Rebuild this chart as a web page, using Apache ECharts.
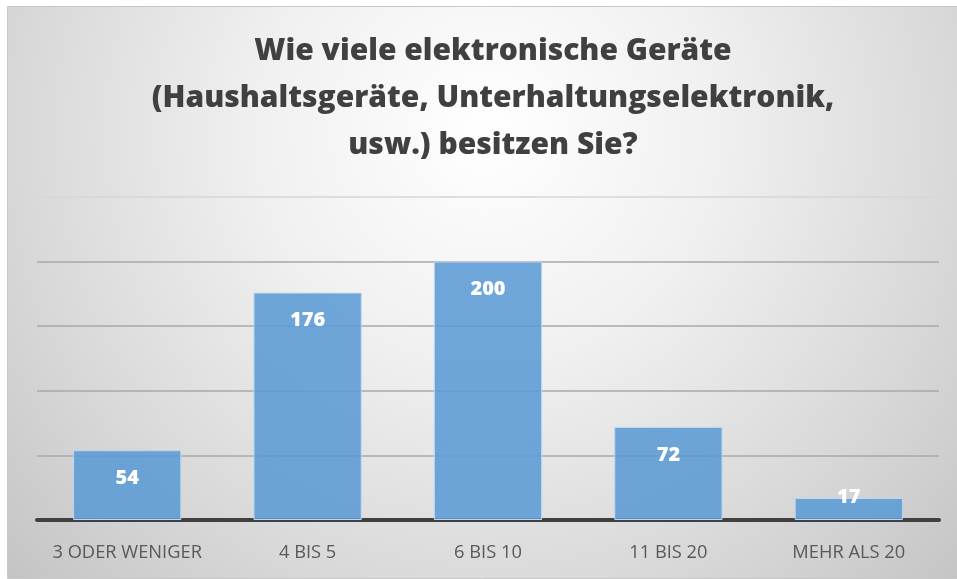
<!DOCTYPE html>
<html><head><meta charset="utf-8">
<script src="https://cdn.jsdelivr.net/npm/echarts@6/dist/echarts.min.js"></script>
<style>html,body{margin:0;padding:0;background:#fff}#c{width:957px;height:579px}</style>
</head><body><div id="c"></div>
<script>
const titleText = 'Wie viele elektronische Geräte\n(Haushaltsgeräte, Unterhaltungselektronik,\nusw.) besitzen Sie?';
const categories = ['3 ODER WENIGER', '4 BIS 5', '6 BIS 10', '11 BIS 20', 'MEHR ALS 20'];
const values = [54, 176, 200, 72, 17];
const yMin = 0, yMax = 250, yStep = 50;

const chart = echarts.init(document.getElementById('c'), null, {renderer: 'canvas'});
const data = values.map(v => ({
  value: v,
  label: v < 30 ? {position: 'insideBottom', distance: 13} : {position: 'insideTop', distance: 18}
}));
chart.setOption({
  animation: false,
  graphic: [{
    type: 'rect', z: -10, silent: true,
    shape: {x: 7.5, y: 6.5, width: 960, height: 572},
    style: {
      fill: {type: 'radial', x: 0.5, y: 0.22, r: 1.15, colorStops: [
        {offset: 0, color: '#ffffff'}, {offset: 0.35, color: '#f0f0f0'}, {offset: 0.7, color: '#d9d9d9'}, {offset: 1, color: '#c4c4c4'}]},
      stroke: '#c8c8c8', lineWidth: 1
    }
  }],
  title: {
    text: titleText, left: 488, top: 23, textAlign: 'center',
    textStyle: {fontFamily: 'Open Sans', fontWeight: 800, fontSize: 30, lineHeight: 47, color: '#404040'}
  },
  grid: {left: 37, right: 18, top: 197, bottom: 59, containLabel: false},
  xAxis: {
    type: 'category', data: categories,
    axisLine: {lineStyle: {color: '#404040', width: 4}},
    axisTick: {show: false},
    axisLabel: {interval: 0, color: '#595959', fontFamily: 'Open Sans', fontSize: 18.3, margin: 24, hideOverlap: false}
  },
  yAxis: {
    type: 'value', min: yMin, max: yMax, interval: yStep,
    axisLabel: {show: false}, axisLine: {show: false}, axisTick: {show: false},
    splitLine: {lineStyle: {color: ['#a8a8a8', '#a8a8a8', '#a8a8a8', '#a8a8a8', '#a8a8a8', '#d6d6d6'], width: 1.5}}
  },
  series: [{
    type: 'bar', data: data, barCategoryGap: '40%',
    itemStyle: {color: 'rgba(91,155,213,0.88)', borderColor: '#bdd7ee', borderWidth: 1},
    label: {show: true, color: '#ffffff', fontFamily: 'Open Sans', fontWeight: 800, fontSize: 20}
  }]
});
</script></body></html>
